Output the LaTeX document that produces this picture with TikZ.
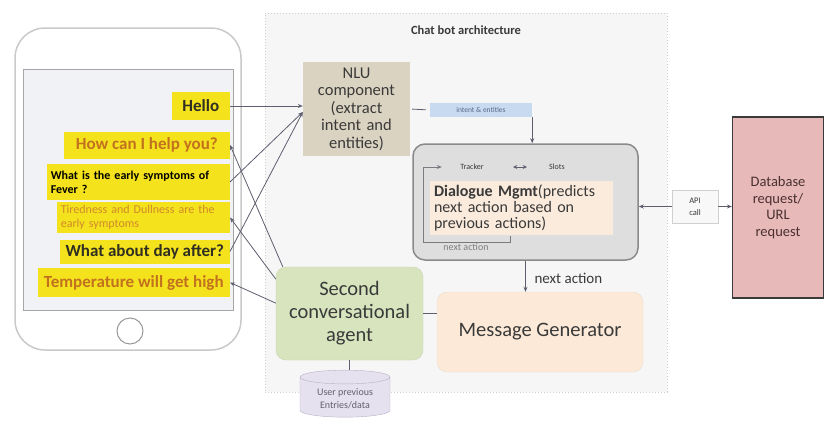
\documentclass[tikz,border=0pt]{standalone}
\usepackage{fontspec}
\setmainfont{Carlito}
\usetikzlibrary{arrows.meta,shapes.geometric,calc}
\definecolor{bubbley}{HTML}{F4E21C}
\definecolor{botc}{HTML}{C2711F}
\definecolor{botc2}{HTML}{D08A2C}
\definecolor{userc}{HTML}{2F2E22}
\definecolor{linec}{HTML}{5E5E6E}
\definecolor{loopc}{HTML}{7A7A80}
\definecolor{nluf}{HTML}{DAD3C1}
\definecolor{intentf}{HTML}{C7DAEF}
\definecolor{intentt}{HTML}{5A6A8A}
\definecolor{scaf}{HTML}{D7E4BE}
\definecolor{scab}{HTML}{C8D6AE}
\definecolor{mgf}{HTML}{FCE9D8}
\definecolor{mgb}{HTML}{F2DCC8}
\definecolor{dmf}{HTML}{DEDEDE}
\definecolor{dmb}{HTML}{8A8A8A}
\definecolor{dmin}{HTML}{FAEBDC}
\definecolor{dbf}{HTML}{E7BAB9}
\definecolor{dbb}{HTML}{3A3A3A}
\definecolor{dbt}{HTML}{4A3030}
\definecolor{cylf}{HTML}{E6E1EE}
\definecolor{cylb}{HTML}{B8B0C8}
\definecolor{cylt}{HTML}{606070}
\definecolor{archf}{HTML}{F6F6F6}
\definecolor{archb}{HTML}{CFCFCF}
\definecolor{screenf}{HTML}{F1F2F5}
\definecolor{phoneb}{HTML}{C9C9C9}
\definecolor{apif}{HTML}{F8F8F8}
\definecolor{apib}{HTML}{D0D0D0}
\definecolor{txt}{HTML}{3A3A3A}
\newcommand{\fsz}[2]{\fontsize{#1}{#2}\selectfont}
\begin{document}
\begin{tikzpicture}[x=1pt,y=-1pt,
  conn/.style={draw=linec, line width=0.8pt},
  arr/.style={conn, -{Stealth[length=5pt,width=4pt]}},
  bubble/.style={rectangle, fill=bubbley, inner sep=3pt, anchor=east},
  bigbox/.style={rounded corners=10pt, text=txt, align=center}
]
\useasboundingbox (0,0) rectangle (825,423);
% phone
\draw[draw=phoneb, line width=1.5pt, fill=white, rounded corners=30pt] (15,28) rectangle (241,350);
\draw[draw=gray!70, line width=0.8pt, fill=screenf] (23,69) rectangle (233,310);
\draw[draw=gray!80, line width=1pt] (130,331) circle (13);
% architecture frame
\node[draw=archb, dotted, line width=1pt, fill=archf, minimum width=402pt, minimum height=379pt] (arch) at (466,202.5) {};
\node[font=\fsz{12.5}{14}\bfseries, text=txt] (archlbl) at (466,30) {Chat bot architecture};
% bubbles
\node[bubble, minimum width=58pt, minimum height=28pt, font=\fsz{17}{19}\bfseries, text=userc] (hello) at (230,106) {Hello};
\node[bubble, minimum width=166pt, minimum height=27pt, font=\fsz{17}{19}\bfseries, text=botc] (help) at (230,145) {How can I help you?};
\node[bubble, minimum width=183pt, minimum height=36pt, text width=175pt, align=left, font=\fsz{12}{14}\bfseries, text=black] (fever) at (230,182) {What is the early symptoms of\\Fever ?};
\node[bubble, minimum width=173pt, minimum height=31pt, text width=165pt, align=left, font=\fsz{12}{13.5}, text=botc2] (tired) at (230,217.5) {Tiredness and Dullness are the\\early symptoms};
\node[bubble, minimum width=170pt, minimum height=24pt, font=\fsz{17}{19}\bfseries, text=userc] (day) at (230,251.5) {What about day after?};
\node[bubble, minimum width=192pt, minimum height=29pt, font=\fsz{17}{19}\bfseries, text=botc] (temp) at (230,282.5) {Temperature will get high};
% NLU
\node[fill=nluf, minimum width=107pt, minimum height=94pt, text width=101pt, inner sep=3pt, align=center, font=\fsz{16.5}{17.5}, text=txt] (nlu) at (356.5,109) {NLU\\component\\(extract\\intent and\\entities)};
\node[fill=intentf, minimum width=102pt, minimum height=14pt, inner sep=1pt, font=\fsz{7.5}{8}, text=intentt] (intent) at (481,110) {intent \& entities};
% Dialogue management
\node[draw=dmb, line width=1.5pt, fill=dmf, rounded corners=12pt, minimum width=225pt, minimum height=116pt] (dm) at (525.5,202) {};
\node[fill=dmin, minimum width=183pt, minimum height=46pt, text width=175pt, align=left, inner sep=4pt, font=\fsz{16}{16}, text=txt] (dmtext) at (521.5,208) {\textbf{Dialogue Mgmt}(predicts\\next action based on\\previous actions)};
\node[font=\fsz{8}{9}, text=txt, minimum width=60pt] (tracker) at (472,167) {Tracker};
\node[font=\fsz{8}{9}, text=txt, minimum width=60pt] (slots) at (557,167) {Slots};
\draw[conn, {Stealth[length=4pt,width=4pt]}-{Stealth[length=4pt,width=4pt]}] ($(tracker.east)+(11,0)$) -- (slots.west);
\coordinate (loopstart) at (510,236);
\draw[conn, draw=loopc, -{Stealth[length=5pt,width=4pt]}] (loopstart) -- ++(0,6) -- ++(-87,0) |- (tracker.west);
\node[font=\fsz{10}{11}, text=gray] (nalbl) at (466,247) {next action};
% API and database
\node[draw=apib, fill=apif, minimum width=46pt, minimum height=33pt, align=center, font=\fsz{8.5}{12}, text=txt] (api) at (695,206.5) {API\\call};
\node[draw=dbb, line width=1.5pt, fill=dbf, minimum width=90pt, minimum height=181pt, text width=84pt, align=center, font=\fsz{14.5}{16.7}, text=dbt] (db) at (778,207.5) {Database\\request/\\URL\\request};
\draw[arr] (api.west) -- (api.west -| dm.east);
\draw[arr] (api.east) -- (api.east -| db.west);
% lower boxes
\node[bigbox, fill=scaf, draw=scab, minimum width=147pt, minimum height=93pt, font=\fsz{20.5}{23}] (sca) at (349.5,313.5) {Second\\conversational\\agent};
\node[bigbox, fill=mgf, draw=mgb, minimum width=206pt, minimum height=80pt, font=\fsz{20.5}{22}] (mg) at (540,332) {Message Generator};
\node[cylinder, shape border rotate=90, aspect=0.22, draw=cylb, fill=cylf, minimum width=90pt, minimum height=47pt, align=center, font=\fsz{10}{13}, text=cylt] (cyl) at (345,398.5) {User previous\\Entries/data};
% connectors
\draw[conn, shorten <=2pt, shorten >=4pt] (nlu.east) -- (intent.west);
\draw[arr] (intent.south east) -- (intent.south east |- dm.north);
\draw[arr] (dm.south) -- (dm.south |- mg.north);
\node[font=\fsz{15}{16}, text=txt, anchor=west] (nextlbl) at (531,278) {next action};
\draw[conn] (sca.east) -- (sca.east -| mg.west);
\draw[conn] (sca.south) -- (sca.south |- cyl.north);
\draw[arr] (hello.east) -- (hello.east -| nlu.west);
\draw[arr] (fever.east) -- ($(nlu.west)+(0,3)$);
\draw[arr] (day.east) -- ($(nlu.west)+(0,3)$);
\draw[arr] (sca.145) -- (help.east);
\draw[arr] (sca.155) -- (tired.east);
\draw[arr] (sca.172) -- (temp.east);
\end{tikzpicture}
\end{document}
